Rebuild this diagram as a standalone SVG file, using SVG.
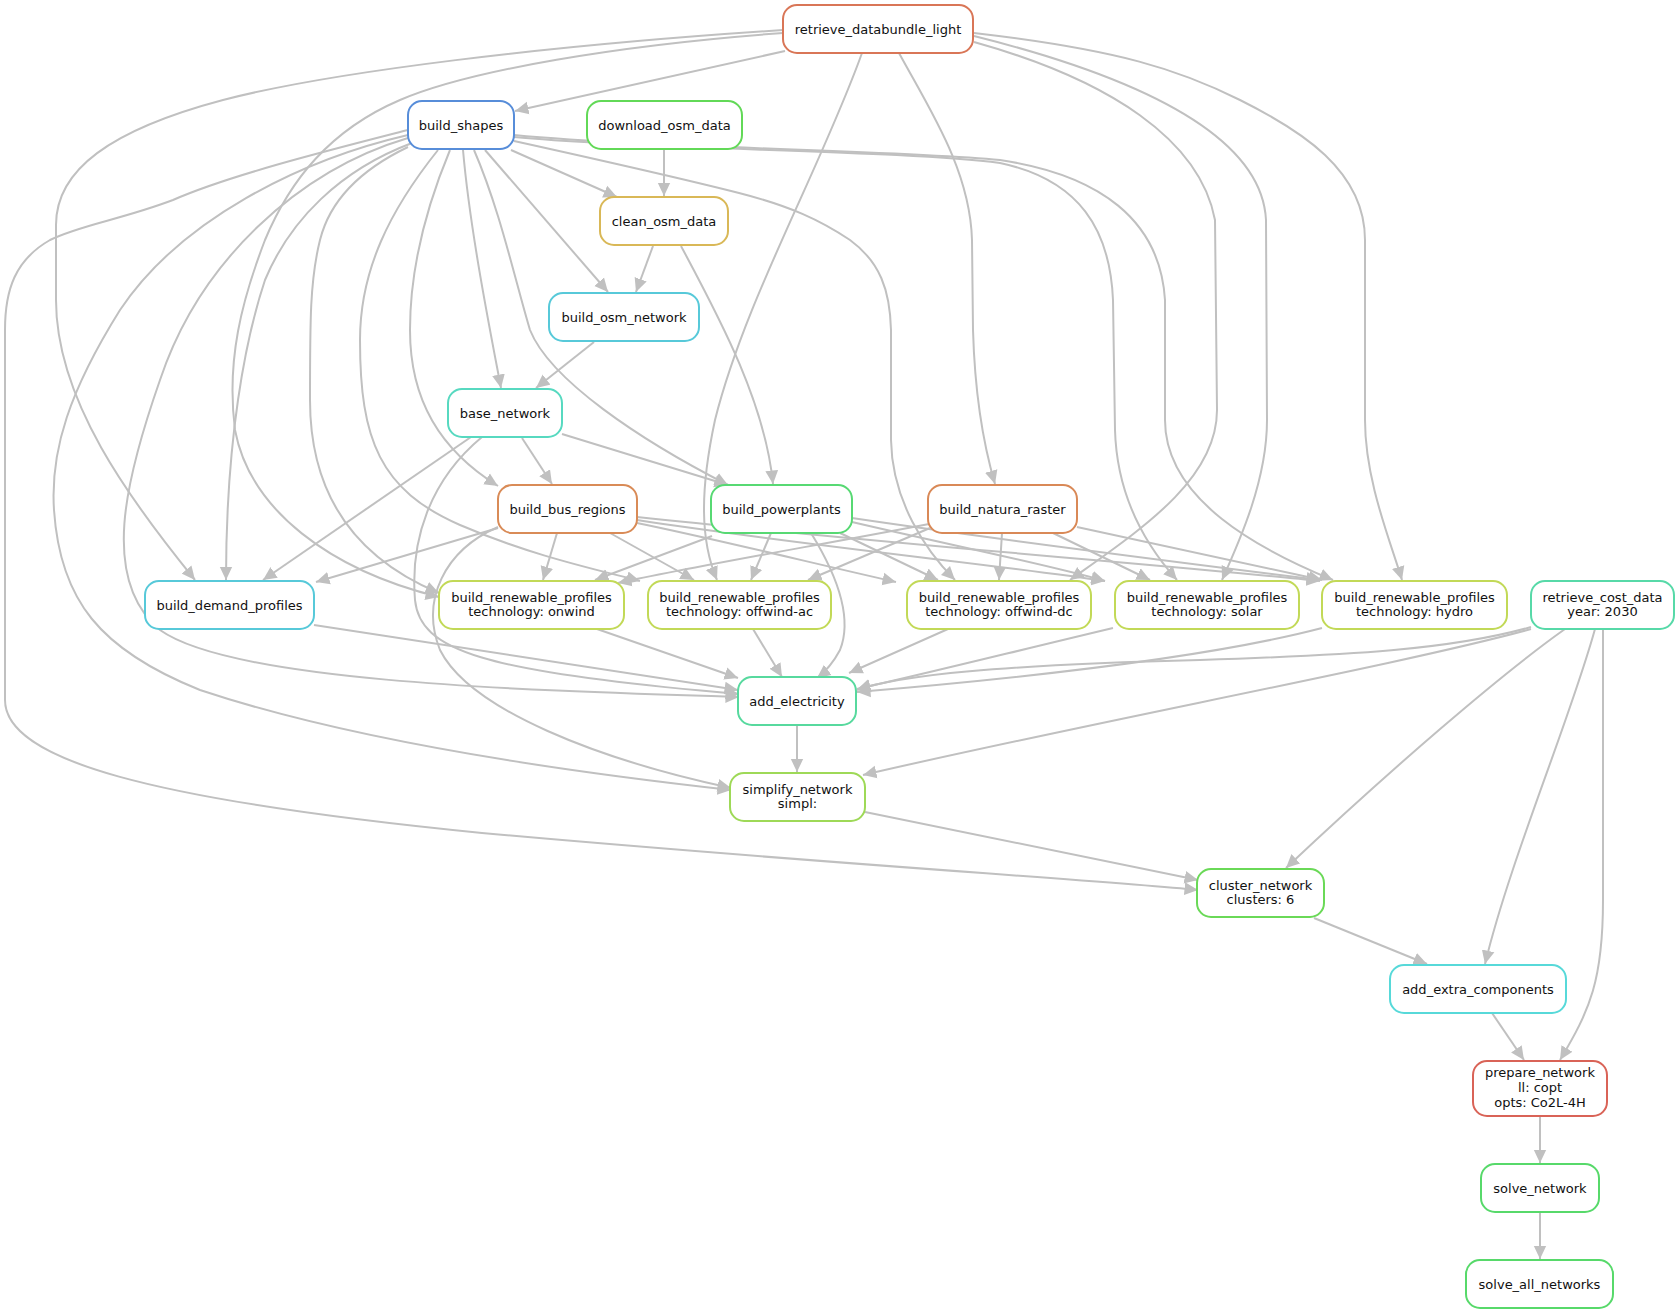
<svg xmlns="http://www.w3.org/2000/svg" width="1679" height="1313" viewBox="0 0 1679 1313">
<style>
.n rect{fill:#fff;stroke-width:2}
.n text{font-family:"DejaVu Sans",sans-serif;font-size:13px;fill:#111;text-anchor:middle}
#edges path{fill:none;stroke:#C0C0C0;stroke-width:2;marker-end:url(#ah)}
</style>
<defs>
<marker id="ah" markerUnits="userSpaceOnUse" markerWidth="15" markerHeight="14" refX="13.5" refY="7" orient="auto"><path d="M0,0.6 L13.5,7 L0,13.4 z" fill="#C0C0C0"/></marker>
</defs>
<rect width="1679" height="1313" fill="#fff"/>
<g id="edges">
<path d="M785,51 L515,111"/>
<path d="M783,30 C550,45 330,72 223,100 C110,130 56,170 56,225 L56,300 C56,400 130,500 195,580"/>
<path d="M783,33 C620,45 470,70 400,100 C330,130 290,180 265,240 C242,300 226,360 235,430 C250,510 330,570 439,597"/>
<path d="M862,53 C820,170 745,300 715,420 C700,490 700,540 717,580"/>
<path d="M899,53 C930,110 970,170 972,240 L973,330 C975,400 985,450 995,484"/>
<path d="M974,42 C1110,80 1200,140 1215,220 L1217,410 C1217,480 1140,530 1070,580"/>
<path d="M974,36 C1150,80 1262,140 1266,220 L1267,420 C1267,480 1240,540 1222,580"/>
<path d="M974,33 C1120,50 1180,70 1240,100 C1300,130 1365,170 1365,240 L1365,420 C1365,480 1390,540 1402,580"/>
<path d="M511,150 L617,197"/>
<path d="M664,149 L664,196"/>
<path d="M485,150 L608,292"/>
<path d="M653,246 L636,292"/>
<path d="M681,246 C715,310 765,400 773,484"/>
<path d="M594,342 L536,388"/>
<path d="M463,150 C470,230 490,330 501,388"/>
<path d="M450,150 C425,210 410,270 410,330 C410,400 440,450 498,486"/>
<path d="M474,150 C500,210 515,280 530,330 C550,380 640,440 728,485"/>
<path d="M522,438 L552,484"/>
<path d="M562,434 L728,485"/>
<path d="M471,437 L263,580"/>
<path d="M482,437 C430,480 410,540 415,600 C420,650 480,672 739,694"/>
<path d="M408,130 C330,150 230,175 173,200 C120,220 80,225 50,240 C15,260 5,290 5,330 L5,700 C5,760 150,800 482,833 C800,862 1100,880 1198,890"/>
<path d="M408,135 C300,160 180,220 120,310 C70,390 50,450 54,510 C60,600 100,650 200,690 C350,740 550,770 731,790"/>
<path d="M408,138 C300,170 200,260 160,380 C125,480 100,580 160,630 C230,680 500,690 739,697"/>
<path d="M412,143 C340,170 290,220 265,280 C245,340 226,440 226,580"/>
<path d="M408,147 C360,170 330,200 320,240 C310,280 310,320 310,400 C310,500 360,560 439,593"/>
<path d="M438,150 C390,210 360,270 360,340 C360,440 380,490 460,525 C530,555 590,568 640,581"/>
<path d="M514,141 C600,160 680,178 739,193 C790,206 820,220 850,240 C880,262 890,290 891,330 L891,440 C892,500 925,550 955,580"/>
<path d="M514,137 C650,150 900,150 1000,163 C1080,180 1110,230 1113,300 L1115,430 C1117,500 1150,550 1177,580"/>
<path d="M514,135 C650,148 900,150 1000,160 C1100,175 1160,220 1165,300 L1165,420 C1165,500 1260,550 1333,580"/>
<path d="M498,528 L316,582"/>
<path d="M557,533 L543,580"/>
<path d="M610,533 L694,580"/>
<path d="M637,523 C720,540 820,565 896,582"/>
<path d="M637,520 C800,545 1000,565 1105,581"/>
<path d="M637,517 C900,545 1200,568 1320,581"/>
<path d="M498,527 C445,550 420,600 440,650 C470,710 600,760 731,788"/>
<path d="M712,536 L595,580"/>
<path d="M771,533 L751,580"/>
<path d="M840,533 L938,580"/>
<path d="M852,522 C950,545 1050,565 1105,581"/>
<path d="M852,518 C1000,540 1200,565 1320,580"/>
<path d="M811,533 C840,580 852,620 840,650 C832,665 825,672 817,678"/>
<path d="M929,524 C820,545 700,565 618,583"/>
<path d="M930,528 L808,580"/>
<path d="M1002,533 L999,580"/>
<path d="M1053,533 L1150,580"/>
<path d="M1077,527 L1322,580"/>
<path d="M597,629 L738,678"/>
<path d="M753,629 L782,677"/>
<path d="M948,629 L849,673"/>
<path d="M1113,628 C1000,655 920,675 857,689"/>
<path d="M1322,628 C1200,660 1000,680 857,692"/>
<path d="M314,625 L738,690"/>
<path d="M1531,627 C1450,650 1350,655 1200,660 C1000,665 900,675 857,690"/>
<path d="M1531,629 C1400,665 1100,720 863,775"/>
<path d="M1565,629 C1500,675 1390,770 1286,868"/>
<path d="M1595,629 C1570,720 1510,860 1485,964"/>
<path d="M1603,629 L1603,900 C1603,980 1590,1010 1560,1060"/>
<path d="M797,725 L797,772"/>
<path d="M865,812 L1198,880"/>
<path d="M1314,918 L1427,964"/>
<path d="M1492,1013 L1524,1060"/>
<path d="M1540,1116 L1540,1163"/>
<path d="M1540,1212 L1540,1259"/>
</g>
<g id="retrieve_databundle_light" class="n"><rect x="783" y="5" width="190" height="48" rx="14" stroke="#D97657"/><text x="878" y="33.5">retrieve_databundle_light</text></g>
<g id="build_shapes" class="n"><rect x="408" y="101" width="106" height="48" rx="14" stroke="#578DD9"/><text x="461" y="129.5">build_shapes</text></g>
<g id="download_osm_data" class="n"><rect x="587" y="101" width="155" height="48" rx="14" stroke="#62D957"/><text x="664.5" y="129.5">download_osm_data</text></g>
<g id="clean_osm_data" class="n"><rect x="600" y="197" width="128" height="48" rx="14" stroke="#D9B857"/><text x="664" y="225.5">clean_osm_data</text></g>
<g id="build_osm_network" class="n"><rect x="549" y="293" width="150" height="48" rx="14" stroke="#57C9D9"/><text x="624" y="321.5">build_osm_network</text></g>
<g id="base_network" class="n"><rect x="448" y="389" width="114" height="48" rx="14" stroke="#57D9C0"/><text x="505" y="417.5">base_network</text></g>
<g id="build_bus_regions" class="n"><rect x="498" y="485" width="139" height="48" rx="14" stroke="#D98B57"/><text x="567.5" y="513.5">build_bus_regions</text></g>
<g id="build_powerplants" class="n"><rect x="711" y="485" width="141" height="48" rx="14" stroke="#57D973"/><text x="781.5" y="513.5">build_powerplants</text></g>
<g id="build_natura_raster" class="n"><rect x="928" y="485" width="149" height="48" rx="14" stroke="#D98957"/><text x="1002.5" y="513.5">build_natura_raster</text></g>
<g id="build_demand_profiles" class="n"><rect x="145" y="581" width="169" height="48" rx="14" stroke="#57C9D9"/><text x="229.5" y="609.5">build_demand_profiles</text></g>
<g id="brp_onwind" class="n"><rect x="439" y="581" width="185" height="48" rx="14" stroke="#C2D957"/><text x="531.5" y="601.5">build_renewable_profiles</text><text x="531.5" y="616">technology: onwind</text></g>
<g id="brp_offwind_ac" class="n"><rect x="648" y="581" width="183" height="48" rx="14" stroke="#C2D957"/><text x="739.5" y="601.5">build_renewable_profiles</text><text x="739.5" y="616">technology: offwind-ac</text></g>
<g id="brp_offwind_dc" class="n"><rect x="907" y="581" width="184" height="48" rx="14" stroke="#C2D957"/><text x="999" y="601.5">build_renewable_profiles</text><text x="999" y="616">technology: offwind-dc</text></g>
<g id="brp_solar" class="n"><rect x="1115" y="581" width="184" height="48" rx="14" stroke="#C2D957"/><text x="1207" y="601.5">build_renewable_profiles</text><text x="1207" y="616">technology: solar</text></g>
<g id="brp_hydro" class="n"><rect x="1322" y="581" width="185" height="48" rx="14" stroke="#C2D957"/><text x="1414.5" y="601.5">build_renewable_profiles</text><text x="1414.5" y="616">technology: hydro</text></g>
<g id="retrieve_cost_data" class="n"><rect x="1531" y="581" width="143" height="48" rx="14" stroke="#57D9A8"/><text x="1602.5" y="601.5">retrieve_cost_data</text><text x="1602.5" y="616">year: 2030</text></g>
<g id="add_electricity" class="n"><rect x="738" y="677" width="118" height="48" rx="14" stroke="#57D99E"/><text x="797" y="705.5">add_electricity</text></g>
<g id="simplify_network" class="n"><rect x="730" y="773" width="135" height="48" rx="14" stroke="#9ED957"/><text x="797.5" y="793.5">simplify_network</text><text x="797.5" y="808">simpl:</text></g>
<g id="cluster_network" class="n"><rect x="1197" y="869" width="127" height="48" rx="14" stroke="#6AD957"/><text x="1260.5" y="889.5">cluster_network</text><text x="1260.5" y="904">clusters: 6</text></g>
<g id="add_extra_components" class="n"><rect x="1390" y="965" width="176" height="48" rx="14" stroke="#57D9D9"/><text x="1478" y="993.5">add_extra_components</text></g>
<g id="prepare_network" class="n"><rect x="1473" y="1061" width="134" height="55" rx="14" stroke="#D96357"/><text x="1540" y="1077">prepare_network</text><text x="1540" y="1092">ll: copt</text><text x="1540" y="1107">opts: Co2L-4H</text></g>
<g id="solve_network" class="n"><rect x="1481" y="1164" width="118" height="48" rx="14" stroke="#57D96A"/><text x="1540" y="1192.5">solve_network</text></g>
<g id="solve_all_networks" class="n"><rect x="1466" y="1260" width="147" height="48" rx="14" stroke="#57D96A"/><text x="1539.5" y="1288.5">solve_all_networks</text></g>
</svg>
